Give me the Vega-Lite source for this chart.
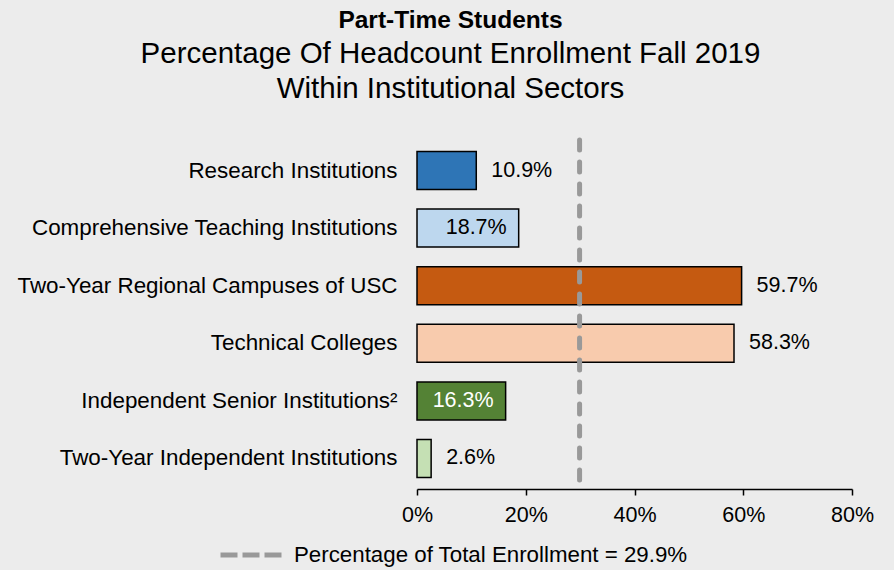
{
  "$schema": "https://vega.github.io/schema/vega-lite/v6.json",
  "autosize": {"type": "none"},
  "width": 435,
  "height": 349,
  "padding": {"left": 417, "top": 140, "right": 42, "bottom": 81},
  "background": "#ececec",
  "config": {
    "view": {"stroke": null},
    "font": "Liberation Sans"
  },
  "title": {
    "text": "Part-Time Students",
    "subtitle": ["Percentage Of Headcount Enrollment Fall 2019", "Within Institutional Sectors"],
    "anchor": "middle",
    "frame": "group",
    "dx": -184,
    "offset": 33,
    "font": "Liberation Sans",
    "fontSize": 24.5,
    "fontWeight": "bold",
    "color": "#000000",
    "subtitleFont": "Liberation Sans",
    "subtitleFontSize": 29.5,
    "subtitleColor": "#000000",
    "subtitleLineHeight": 35,
    "subtitlePadding": 7
  },
  "data": {
    "values": [
      {"sector": "Research Institutions", "pct": 10.9, "label": "10.9%", "inside": false},
      {"sector": "Comprehensive Teaching Institutions", "pct": 18.7, "label": "18.7%", "inside": true},
      {"sector": "Two-Year Regional Campuses of USC", "pct": 59.7, "label": "59.7%", "inside": false},
      {"sector": "Technical Colleges", "pct": 58.3, "label": "58.3%", "inside": false},
      {"sector": "Independent Senior Institutions²", "pct": 16.3, "label": "16.3%", "inside": true},
      {"sector": "Two-Year Independent Institutions", "pct": 2.6, "label": "2.6%", "inside": false}
    ]
  },
  "encoding": {
    "y": {
      "field": "sector",
      "type": "nominal",
      "sort": null,
      "scale": {"paddingInner": 0.34, "paddingOuter": 0.2},
      "axis": {
        "title": null,
        "domain": false,
        "ticks": false,
        "labelPadding": 20,
        "labelFontSize": 22.4,
        "labelColor": "#000000",
        "labelFont": "Liberation Sans",
        "labelLimit": 500
      }
    },
    "x": {
      "field": "pct",
      "type": "quantitative",
      "scale": {"domain": [0, 80], "nice": false},
      "axis": {
        "title": null,
        "values": [0, 20, 40, 60, 80],
        "labelExpr": "datum.value + '%'",
        "grid": false,
        "domainColor": "#000000",
        "domainWidth": 1.5,
        "tickColor": "#000000",
        "tickWidth": 1.5,
        "tickSize": 6,
        "labelPadding": 9,
        "labelFontSize": 21.5,
        "labelColor": "#000000",
        "labelFont": "Liberation Sans",
        "labelFlush": false
      }
    }
  },
  "layer": [
    {
      "mark": {"type": "bar", "stroke": "#000000", "strokeWidth": 1.5},
      "encoding": {
        "fill": {
          "field": "sector",
          "type": "nominal",
          "legend": null,
          "scale": {
            "domain": ["Research Institutions", "Comprehensive Teaching Institutions", "Two-Year Regional Campuses of USC", "Technical Colleges", "Independent Senior Institutions²", "Two-Year Independent Institutions"],
            "range": ["#2e75b6", "#bdd7ee", "#c55a11", "#f8cbad", "#548235", "#c5e0b4"]
          }
        }
      }
    },
    {
      "transform": [{"filter": "!datum.inside"}],
      "mark": {"type": "text", "align": "left", "baseline": "middle", "dx": 15, "fontSize": 21.5, "font": "Liberation Sans", "color": "#000000"},
      "encoding": {"text": {"field": "label"}}
    },
    {
      "transform": [{"filter": "datum.inside"}],
      "mark": {"type": "text", "align": "right", "baseline": "middle", "dx": -12, "fontSize": 21.5, "font": "Liberation Sans"},
      "encoding": {
        "text": {"field": "label"},
        "color": {
          "condition": {"test": "datum.sector === 'Independent Senior Institutions²'", "value": "#ffffff"},
          "value": "#000000"
        }
      }
    },
    {
      "data": {"values": [{"name": "Percentage of Total Enrollment = 29.9%", "total": 29.9}]},
      "mark": {"type": "rule", "strokeWidth": 5, "strokeDash": [10, 12], "strokeCap": "round"},
      "encoding": {
        "x": {"field": "total", "type": "quantitative"},
        "y": null,
        "stroke": {
          "field": "name",
          "type": "nominal",
          "scale": {"range": ["#999999"]},
          "legend": {
            "title": null,
            "orient": "none",
            "legendX": -199,
            "legendY": 382,
            "padding": 0,
            "symbolType": "stroke",
            "symbolSize": 3721,
            "symbolStrokeWidth": 5,
            "symbolDash": [17, 5],
            "symbolStrokeColor": "#999999",
            "labelFontSize": 22.3,
            "labelFont": "Liberation Sans",
            "labelColor": "#000000",
            "labelOffset": 10,
            "labelLimit": 600
          }
        }
      }
    }
  ]
}
